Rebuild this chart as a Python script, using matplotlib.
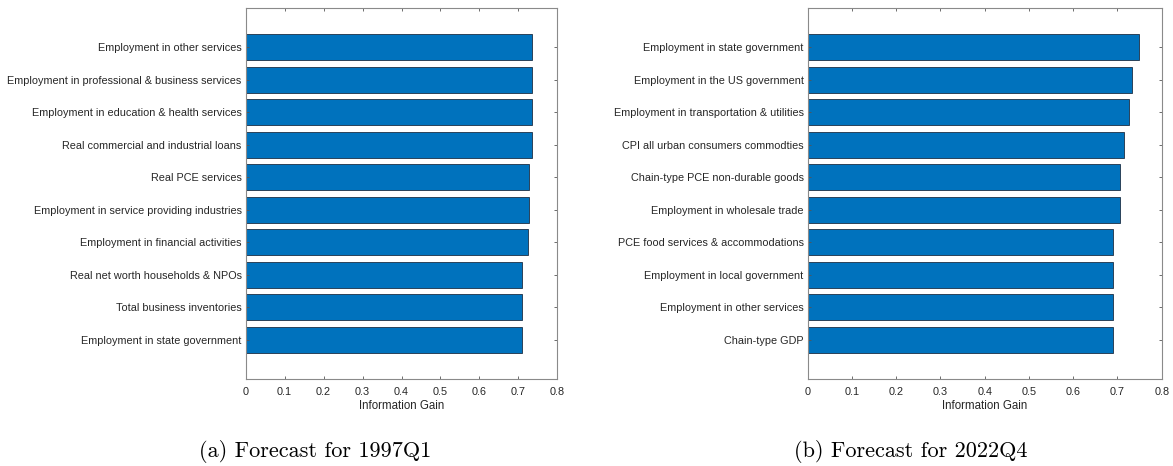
import numpy as np
import matplotlib
matplotlib.use("Agg")
import matplotlib.pyplot as plt

# panel (a), top to bottom
labels_a = [
    "Employment in other services",
    "Employment in professional & business services",
    "Employment in education & health services",
    "Real commercial and industrial loans",
    "Real PCE services",
    "Employment in service providing industries",
    "Employment in financial activities",
    "Real net worth households & NPOs",
    "Total business inventories",
    "Employment in state government",
]
gain_a = [0.734, 0.734, 0.734, 0.734, 0.728, 0.728, 0.724, 0.709, 0.709, 0.709]

# panel (b), top to bottom
labels_b = [
    "Employment in state government",
    "Employment in the US government",
    "Employment in transportation & utilities",
    "CPI all urban consumers commodties",
    "Chain-type PCE non-durable goods",
    "Employment in wholesale trade",
    "PCE food services & accommodations",
    "Employment in local government",
    "Employment in other services",
    "Chain-type GDP",
]
gain_b = [0.748, 0.734, 0.725, 0.715, 0.705, 0.705, 0.689, 0.689, 0.689, 0.689]

captions = ["(a) Forecast for 1997Q1", "(b) Forecast for 2022Q4"]
xticks = [0, 0.1, 0.2, 0.3, 0.4, 0.5, 0.6, 0.7, 0.8]

plt.rcParams["font.family"] = ["Liberation Sans", "DejaVu Sans"]

fig = plt.figure(figsize=(11.73, 4.66), dpi=100)
W, H = 1173, 466
boxes = [(245.7, 557.3), (807.7, 1161.7)]
top, bottom = 8.3, 378.5
cap_x = [315, 911]

for (x0, x1), labels, gain, cap, cx in zip(boxes, [labels_a, labels_b],
                                           [gain_a, gain_b], captions, cap_x):
    ax = fig.add_axes([x0 / W, 1 - bottom / H, (x1 - x0) / W, (bottom - top) / H])
    y = np.arange(len(labels))
    ax.barh(y, gain, height=0.8, color="#0072BD", edgecolor="#1c2f45", linewidth=0.6)
    ax.set_ylim(len(labels) - 1 + 1.2, -1.2)
    ax.set_xlim(0, 0.8)
    ax.set_yticks(y)
    ax.set_yticklabels(labels)
    ax.set_xticks(xticks)
    ax.set_xticklabels(["0"] + [f"{t:g}" for t in xticks[1:]])
    ax.tick_params(direction="in", length=2.5, width=0.6, color="#555555",
                   labelsize=7.85, labelcolor="#262626", pad=3,
                   top=True, right=True)
    ax.tick_params(axis="x", pad=6)
    for s in ax.spines.values():
        s.set_color("#8a8a8a")
        s.set_linewidth(0.8)
    ax.set_xlabel("Information Gain", fontsize=8.3, color="#262626", labelpad=2.5)
    fig.text(cx / W, 1 - 451.7 / H, cap, ha="center", va="center",
             family="cmr10", fontsize=16, color="black")

fig.savefig("out.png", dpi=100)
